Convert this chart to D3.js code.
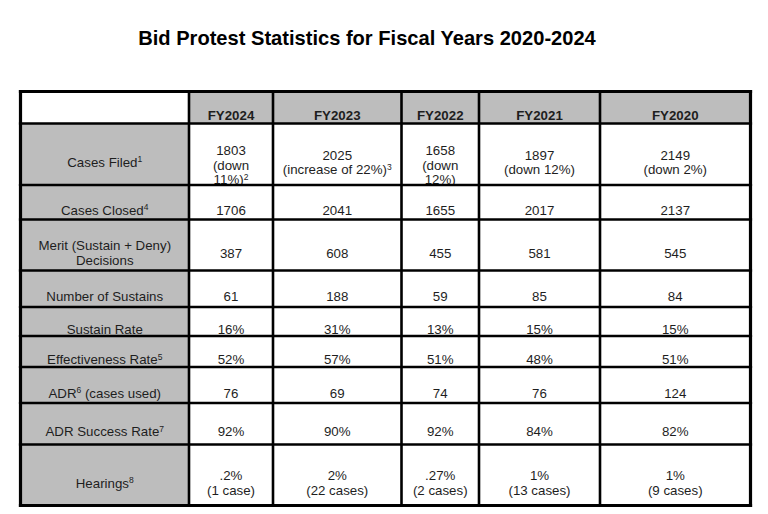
<!DOCTYPE html>
<html>
<head>
<meta charset="utf-8">
<script src="https://cdn.jsdelivr.net/npm/d3@7"></script>
<style>
  html, body { margin: 0; padding: 0; background: #fff; }
  svg { display: block; }
</style>
</head>
<body>
<svg id="chart" width="768" height="514"></svg>
<script>
// ---------- data ----------
const title = "Bid Protest Statistics for Fiscal Years 2020-2024";
const years = ["FY2024", "FY2023", "FY2022", "FY2021", "FY2020"];
const rowLabels = [
  "Cases Filed^1",
  "Cases Closed^4",
  "Merit (Sustain + Deny)\nDecisions",
  "Number of Sustains",
  "Sustain Rate",
  "Effectiveness Rate^5",
  "ADR^6 (cases used)",
  "ADR Success Rate^7",
  "Hearings^8"
];
const fy2024 = ["1803\n(down\n11%)^2", "1706", "387", "61", "16%", "52%", "76", "92%", ".2%\n(1 case)"];
const fy2023 = ["2025\n(increase of 22%)^3", "2041", "608", "188", "31%", "57%", "69", "90%", "2%\n(22 cases)"];
const fy2022 = ["1658\n(down\n12%)", "1655", "455", "59", "13%", "51%", "74", "92%", ".27%\n(2 cases)"];
const fy2021 = ["1897\n(down 12%)", "2017", "581", "85", "15%", "48%", "76", "84%", "1%\n(13 cases)"];
const fy2020 = ["2149\n(down 2%)", "2137", "545", "84", "15%", "51%", "124", "82%", "1%\n(9 cases)"];
const columns = [fy2024, fy2023, fy2022, fy2021, fy2020];

// ---------- layout ----------
const colEdges = [20.5, 189, 273, 401.5, 479, 600, 750.5];
const rowEdges = [91.5, 123.5, 185, 219.5, 270.5, 307, 336, 367, 403, 444.5, 505.5];
const grey = "#bdbdbd";
const ink = "#1e1e1e";
const font = "'Liberation Sans', Arial, Helvetica, sans-serif";
const fs = 13.3, lh = 14.5, baseOff = 12.5;
const supSize = 8.5, supRise = 4.5;

const svg = d3.select("#chart");
const defs = svg.append("defs");

svg.append("text")
  .attr("x", 367).attr("y", 45)
  .attr("text-anchor", "middle")
  .attr("font-family", font).attr("font-weight", "bold").attr("font-size", 20.1)
  .attr("fill", "#000")
  .text(title);

// build cell list: row 0 header, col 0 labels
const cells = [];
cells.push({r: 0, c: 0, text: "", fill: "#fff", bold: false});
years.forEach((y, i) => cells.push({r: 0, c: i + 1, text: y, fill: grey, bold: true}));
rowLabels.forEach((l, j) => {
  cells.push({r: j + 1, c: 0, text: l, fill: grey, bold: false});
  columns.forEach((col, i) => cells.push({r: j + 1, c: i + 1, text: col[j], fill: "#fff", bold: false}));
});

const g = svg.append("g");
cells.forEach((d, k) => {
  const x0 = colEdges[d.c], x1 = colEdges[d.c + 1];
  const y0 = rowEdges[d.r], y1 = rowEdges[d.r + 1];
  const cx = (x0 + x1) / 2, cy = (y0 + y1) / 2;
  const id = "clip" + k;
  defs.append("clipPath").attr("id", id)
    .append("rect").attr("x", x0).attr("y", y0).attr("width", x1 - x0).attr("height", y1 - y0);
  const cg = g.append("g");
  cg.append("rect").attr("x", x0).attr("y", y0).attr("width", x1 - x0).attr("height", y1 - y0)
    .attr("fill", d.fill);
  if (!d.text) return;
  const lines = d.text.split("\n");
  const n = lines.length;
  lines.forEach((line, i) => {
    const by = cy + baseOff + (i - (n - 1) / 2) * lh + (n === 3 ? 3 : 0);
    const parts = line.split(/\^(\d)/);
    const lt = cg.append("text")
      .attr("clip-path", `url(#${id})`)
      .attr("x", cx).attr("y", by)
      .attr("text-anchor", "middle")
      .attr("font-family", font)
      .attr("font-size", fs)
      .attr("font-weight", d.bold ? "bold" : "normal")
      .attr("fill", ink);
    let pendingDy = 0;
    parts.forEach((p, pi) => {
      if (p === "") return;
      if (pi % 2 === 1) {
        lt.append("tspan").attr("font-size", supSize).attr("dy", -supRise - pendingDy).text(p);
        pendingDy = -supRise;
      } else {
        const ts = lt.append("tspan").text(p);
        if (pendingDy !== 0) { ts.attr("dy", -pendingDy); pendingDy = 0; }
      }
    });
  });
});

// grid lines
const grid = svg.append("g").attr("stroke", "#000");
colEdges.forEach((x, i) => {
  const outer = i === 0 || i === colEdges.length - 1;
  grid.append("line")
    .attr("x1", x).attr("x2", x)
    .attr("y1", rowEdges[0] - 1.6).attr("y2", rowEdges[rowEdges.length - 1] + 1.6)
    .attr("stroke-width", outer ? 3.2 : 2.6);
});
rowEdges.forEach((y, i) => {
  const outer = i === 0 || i === rowEdges.length - 1;
  grid.append("line")
    .attr("x1", colEdges[0] - 1.6).attr("x2", colEdges[colEdges.length - 1] + 1.6)
    .attr("y1", y).attr("y2", y)
    .attr("stroke-width", outer ? 3.2 : 2.6);
});
</script>
</body>
</html>
